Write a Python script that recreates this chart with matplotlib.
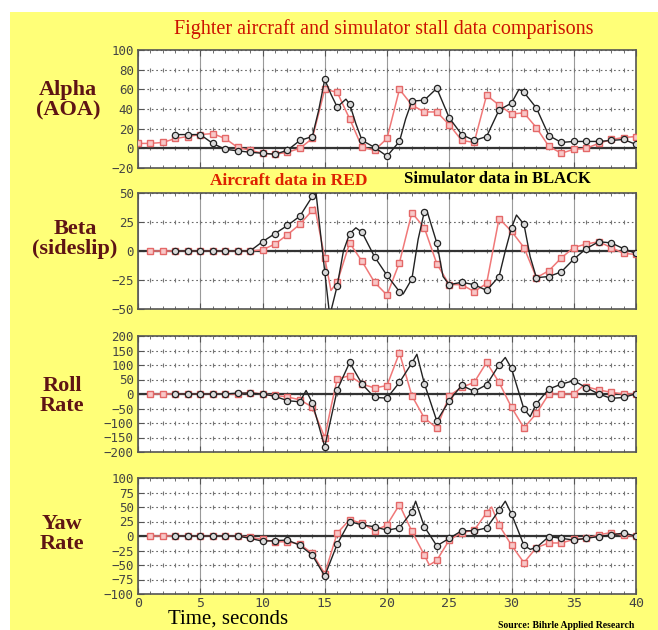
import numpy as np
import matplotlib.pyplot as plt
from matplotlib.patches import Rectangle
from matplotlib.ticker import MultipleLocator

# ---- data (time in seconds) ----
alpha_t_red = list(range(0, 41))
alpha_red = [5, 5, 6, 10, 12, 14, 15, 10, 1, -2, -5, -6, -4, 0, 10, 60, 57, 30, 1, -2,
             10, 60, 44, 37, 37, 24, 8, 6, 54, 44, 35, 36, 21, 2, -5, -1, 0, 5, 9, 11, 12]
alpha_t_sim = [3, 4, 5, 6, 7, 8, 9, 10, 11, 12, 13, 14, 14.5, 15, 15.5, 16, 16.7, 17, 17.5, 18,
               19, 20, 21, 21.5, 22, 23, 24, 25, 26, 27, 28, 29, 30, 30.6, 31, 32, 33, 34, 35,
               36, 37, 38, 39, 40]
alpha_sim = [14, 14, 14, 5, -1, -2.5, -4, -5, -6, -2, 8, 12, 38, 70, 55, 42, 50, 45, 25, 8,
             1, -8, 7, 30, 48, 49, 61, 31, 14, 8, 12, 39, 46, 60, 57, 41, 13, 6, 7,
             7, 7, 8, 9, 4]

beta_t_red = [1, 2, 3, 4, 5, 6, 7, 8, 9, 10, 11, 12, 13, 14, 14.2, 15, 15.5, 16, 17, 18, 19, 20,
              21, 22, 23, 24, 25, 26, 27, 28, 29, 30, 31, 32, 33, 34, 35, 36, 37, 38, 39, 40]
beta_red = [0, 0, 0, 0, 0, 0, 0, 0, 0, 1, 6, 14, 23, 35, 38, -6, -34, -27, 7, -9, -27, -38,
            -10, 33, 20, -11, -29, -29, -35, -28, 28, 17, 3, -23, -17, -6, 3, 6, 8, 3, -2, -3]
beta_t_sim = [3, 4, 5, 6, 7, 8, 9, 10, 11, 12, 13, 14, 14.3, 15, 15.4, 16, 16.5, 17, 17.5, 18,
              19, 20, 21, 21.3, 22, 22.5, 23, 23.2, 24, 24.5, 25, 26, 27, 28, 29, 29.5, 30,
              30.4, 31, 31.5, 32, 33, 34, 35, 36, 37, 38, 39, 40]
beta_sim = [0, 0, 0, 0, 0, 0, 0, 8, 15, 22, 30, 47, 50, -18, -56, -30, 0, 15, 20, 16,
            -5, -21, -35, -37, -24, 10, 34, 35, 7, -22, -29, -27, -29, -34, -22, 0, 20,
            31, 23, -5, -23, -22, -18, -7, 2, 8, 7, 2, -2]

roll_t_red = [1, 2, 3, 4, 5, 6, 7, 8, 9, 10, 11, 12, 13, 14, 15, 15.5, 16, 17, 18, 19, 20, 21,
              22, 23, 24, 25, 26, 27, 28, 29, 30, 31, 32, 33, 34, 35, 35.8, 36, 37, 38, 39, 40]
roll_red = [0, 0, 0, 0, 0, 0, 0, 0, 5, 0, -5, -10, -20, -45, -150, -45, 52, 63, 34, 21, 29, 142,
            -6, -83, -117, -6, 23, 40, 109, 40, -46, -117, -67, 0, 0, 0, 30, 25, 14, 6, 0, 0]
roll_t_sim = [3, 4, 5, 6, 7, 8, 9, 10, 11, 12, 13, 13.5, 14, 15, 16, 17, 18, 19, 20, 21, 22,
              22.4, 23, 24, 25, 26, 27, 28, 29, 29.5, 30, 31, 31.5, 32, 33, 34, 35, 36, 37,
              38, 39, 40]
roll_sim = [0, 0, 0, 0, 0, 3, 3, 0, -8, -23, -27, 12, -30, -182, 14, 109, 34, -12, -14, 40, 107,
            137, 36, -93, -23, 30, 9, 32, 100, 126, 88, -52, -78, -33, 17, 34, 46, 22, 0,
            -15, -12, 1]

yaw_t_red = [1, 2, 3, 4, 5, 6, 7, 8, 9, 10, 11, 12, 13, 14, 15, 16, 17, 18, 19, 20, 21, 22, 23,
             23.4, 24, 25, 26, 27, 28, 28.4, 29, 30, 31, 32, 33, 34, 35, 36, 37, 38, 39, 40]
yaw_red = [0, 0, 0, 0, 0, 0, 0, 0, -2, -6, -10, -10, -14, -30, -65, 5, 28, 22, 9, 19, 54, 8, -33,
           -50, -42, -7, 6, 10, 40, 50, 19, -16, -46, -20, -12, -12, -6, -4, 2, 6, 1, 0]
yaw_t_sim = [3, 4, 5, 6, 7, 8, 9, 10, 11, 12, 13, 14, 15, 16, 17, 18, 19, 20, 21, 22, 22.3,
             23, 24, 25, 26, 27, 28, 29, 29.5, 30, 31, 31.5, 32, 33, 34, 35, 36, 37, 38, 39, 40]
yaw_sim = [0, 0, 0, 0, 0, 0, -4, -9, -8, -7, -16, -33, -69, -14, 25, 19, 16, 10, 14, 42, 60,
           16, -17, -4, 9, 9, 14, 44, 60, 38, -16, -23, -20, -1, -4, -7, -4, -1, 2, 5, 0]

panel_names = ['Alpha\n(AOA)', 'Beta\n(sideslip)', 'Roll\nRate', 'Yaw\nRate']
panel_ylims = [(-20, 100), (-50, 50), (-200, 200), (-100, 100)]
panel_ysteps = [20, 25, 50, 25]
x_ticks = [0, 5, 10, 15, 20, 25, 30, 35, 40]

panels = [
    (alpha_t_red, alpha_red, alpha_t_sim, alpha_sim),
    (beta_t_red, beta_red, beta_t_sim, beta_sim),
    (roll_t_red, roll_red, roll_t_sim, roll_sim),
    (yaw_t_red, yaw_red, yaw_t_sim, yaw_sim),
]

# ---- figure ----
W, H = 658, 630
fig = plt.figure(figsize=(W / 100, H / 100), dpi=100)
fig.patch.set_facecolor('white')
bg = Rectangle((10 / W, 0), 1, 1 - 12 / H, transform=fig.transFigure,
               facecolor='#FFFF78', edgecolor='none', zorder=-10)
fig.patches.append(bg)

# axes boxes in pixels: (top, bottom)
boxes = [(50, 168), (193, 309), (336, 452), (478, 594)]
label_pos = [(68, 100), (75, 239), (62, 396), (62, 534)]
serif = 'Liberation Serif'
mono = 'DejaVu Sans Mono'


def int_marks(t):
    return [i for i, v in enumerate(t) if abs(v - round(v)) < 1e-6]


for k, (tr, vr, ts, vs) in enumerate(panels):
    top, bot = boxes[k]
    ax = fig.add_axes([138 / W, 1 - bot / H, 498 / W, (bot - top) / H])
    ax.set_facecolor('white')
    lo, hi = panel_ylims[k]
    ax.set_xlim(0, 40)
    ax.set_ylim(lo, hi)
    ax.set_xticks(x_ticks)
    ax.xaxis.set_minor_locator(MultipleLocator(1))
    yt = np.arange(lo, hi + 1, panel_ysteps[k])
    ax.set_yticks(yt)

    # grid
    ax.xaxis.grid(True, color='#9a9a9a', lw=0.8)
    ax.yaxis.grid(True, color='#666666', lw=0.8, linestyle=(0, (1.5, 2.5)))
    sec = np.arange(1, 40)
    for y in yt[1:-1]:
        ax.plot(sec, np.full(sec.shape, y), ls='none', marker='|', ms=3.5,
                mec='#777777', mew=0.8, zorder=1)
    ax.axhline(0, color='#333333', lw=1.6, zorder=2)
    ax.set_axisbelow(True)

    ax.plot(tr, vr, color='#F07878', lw=1.1, marker='s', ms=4.5, mfc='#F8C8C8',
            mec='#E46868', mew=1, markevery=int_marks(tr), zorder=3)
    ax.plot(ts, vs, color='#222222', lw=1.0, marker='o', ms=4.5, mfc='#DADADA',
            mec='#222222', mew=0.9, markevery=int_marks(ts), zorder=4)

    for s in ax.spines.values():
        s.set_color('#555555')
        s.set_linewidth(1.2)
    ax.tick_params(which='both', direction='in', top=True, right=False,
                   colors='#555555', labelcolor='#444444')
    ax.tick_params(which='major', length=4, pad=3)
    ax.tick_params(which='minor', length=2.5)
    for lab in ax.get_yticklabels():
        lab.set_fontfamily(mono)
        lab.set_fontsize(9)
    if k < 3:
        ax.set_xticklabels([])
    else:
        ax.tick_params(axis='x', pad=2)
        for lab in ax.get_xticklabels():
            lab.set_fontfamily(mono)
            lab.set_fontsize(9.5)

    lx, ly = label_pos[k]
    fig.text(lx / W, 1 - ly / H, panel_names[k], ha='center', va='center',
             fontsize=16, family=serif, weight='bold', color='#5E1414', linespacing=1.0)

# ---- texts ----
fig.text(384 / W, 1 - 29 / H, 'Fighter aircraft and simulator stall data comparisons',
         ha='center', va='center', fontsize=14.5, family=serif, color='#CC1100')
fig.text(289 / W, 1 - 181 / H, 'Aircraft data in RED', ha='center', va='center',
         fontsize=12.5, family=serif, weight='bold', color='#DD2200')
fig.text(497 / W, 1 - 179 / H, 'Simulator data in BLACK', ha='center', va='center',
         fontsize=12, family=serif, weight='bold', color='black')
fig.text(228 / W, 1 - 619 / H, 'Time, seconds', ha='center', va='center',
         fontsize=15, family=serif, color='black')
fig.text(566 / W, 1 - 625 / H, 'Source: Bihrle Applied Research', ha='center', va='center',
         fontsize=7, family=serif, weight='bold', color='black')

fig.savefig('out.png', dpi=100, facecolor=fig.get_facecolor())
